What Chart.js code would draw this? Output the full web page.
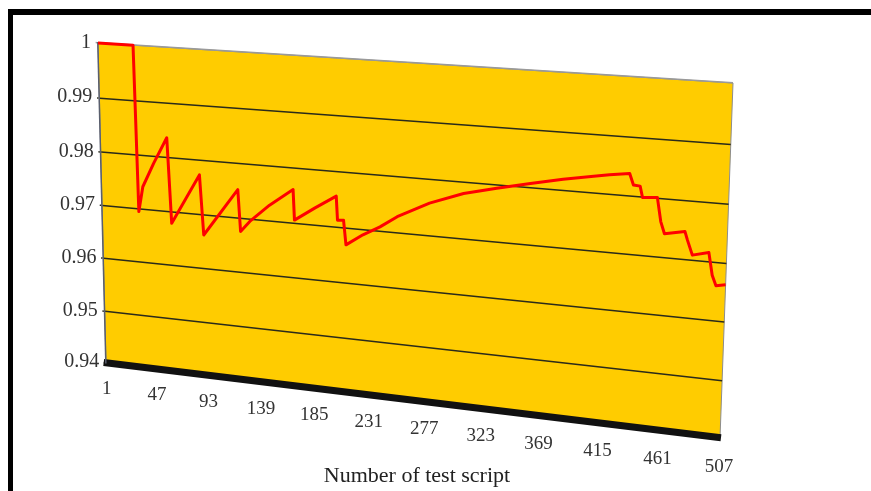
<!DOCTYPE html>
<html>
<head>
<meta charset="utf-8">
<script src="https://cdn.jsdelivr.net/npm/chart.js@4.4.1/dist/chart.umd.min.js"></script>
<style>
  html, body { margin: 0; padding: 0; background: #fff; }
  #wrap { position: relative; width: 871px; height: 491px; overflow: hidden; }
  #frame { position: absolute; left: 8px; top: 9px; right: -10px; bottom: -10px;
           border-top: 6px solid #000; border-left: 5px solid #000; }
  canvas { position: absolute; left: 0; top: 0; }
</style>
</head>
<body>
<div id="wrap">
  <div id="frame"></div>
  <canvas id="chart" width="871" height="491"></canvas>
</div>
<script>
// test script number and the value
const scriptNo = [1, 32, 34, 38, 48, 60, 63, 88, 91, 121, 123, 131, 148, 168, 169, 186, 204, 205, 210, 212,
  226, 240, 254, 280, 307, 333, 359, 384, 409, 419, 434, 437, 442, 444, 455, 458, 461, 476, 478, 482,
  494, 497, 500, 507];
const reliability = [1.0, 1.0, 0.9695, 0.9742, 0.9787, 0.9836, 0.9679, 0.9773, 0.9663, 0.9752,
  0.9676, 0.9696, 0.9729, 0.9761, 0.9706, 0.9731, 0.9756, 0.9713, 0.9714, 0.9670,
  0.9691, 0.9708, 0.9729, 0.9758, 0.9780, 0.9794, 0.9807, 0.9819, 0.9829, 0.9833,
  0.9838, 0.9819, 0.9818, 0.9799, 0.9801, 0.9761, 0.9741, 0.9748, 0.9734, 0.9709,
  0.9716, 0.9678, 0.9661, 0.9664];

const xTickValues = [1, 47, 93, 139, 185, 231, 277, 323, 369, 415, 461, 507];
const yTickValues = [0.94, 0.95, 0.96, 0.97, 0.98, 0.99, 1];
const yTickLabels = ['0.94', '0.95', '0.96', '0.97', '0.98', '0.99', '1'];
const xTitle = 'Number of test script';

// the plot wall is seen in perspective: top-left, top-right, bottom-right, bottom-left
const wall = [[98, 43], [733, 83], [720, 438], [106, 363]];

function makeWarp(q) {
  const [[x0, y0], [x1, y1], [x2, y2], [x3, y3]] = q;
  const dx1 = x1 - x2, dx2 = x3 - x2, dx3 = x0 - x1 + x2 - x3;
  const dy1 = y1 - y2, dy2 = y3 - y2, dy3 = y0 - y1 + y2 - y3;
  const den = dx1 * dy2 - dx2 * dy1;
  const g = (dx3 * dy2 - dx2 * dy3) / den;
  const h = (dx1 * dy3 - dx3 * dy1) / den;
  const a = x1 - x0 + g * x1, b = x3 - x0 + h * x3, c = x0;
  const d = y1 - y0 + g * y1, e = y3 - y0 + h * y3, f = y0;
  return (u, v) => {
    const w = g * u + h * v + 1;
    return [(a * u + b * v + c) / w, (d * u + e * v + f) / w];
  };
}

// maps everything chart.js draws (lines, grid, tick labels) onto the tilted wall
const warpPlugin = {
  id: 'warp',
  beforeDraw(chart) {
    const ctx = chart.ctx;
    const ca = chart.chartArea;
    const P = CanvasRenderingContext2D.prototype;
    const warp = makeWarp(wall);
    const map = (x, y) => warp((x - ca.left) / (ca.right - ca.left), (y - ca.top) / (ca.bottom - ca.top));

    ctx.moveTo = (x, y) => P.moveTo.call(ctx, ...map(x, y));
    ctx.lineTo = (x, y) => P.lineTo.call(ctx, ...map(x, y));
    ctx.clip = () => {}; // axis boxes no longer match the warped labels
    ctx.fillText = function (text, x, y, maxWidth) {
      if (text === xTitle) return P.fillText.call(ctx, text, x, y, maxWidth);
      const m = P.getTransform.call(ctx);
      const p = m.transformPoint(new DOMPoint(x, y));
      const q = map(p.x, p.y);
      const loc = m.inverse().transformPoint(new DOMPoint(q[0], q[1]));
      return P.fillText.call(ctx, text, loc.x, loc.y, maxWidth);
    };

    ctx.save();
    ctx.beginPath();
    ctx.moveTo(ca.left, ca.top);
    ctx.lineTo(ca.right, ca.top);
    ctx.lineTo(ca.right, ca.bottom);
    ctx.lineTo(ca.left, ca.bottom);
    ctx.closePath();
    ctx.fillStyle = '#ffcc00';
    ctx.fill();
    ctx.strokeStyle = '#8c8c8c';
    ctx.lineWidth = 1;
    ctx.stroke();
    ctx.restore();
  },
  afterDraw(chart) {
    delete chart.ctx.moveTo;
    delete chart.ctx.lineTo;
    delete chart.ctx.clip;
    delete chart.ctx.fillText;
  }
};

const serif = 'Liberation Serif';

new Chart(document.getElementById('chart'), {
  type: 'line',
  data: {
    datasets: [{
      data: scriptNo.map((x, i) => ({ x: x, y: reliability[i] })),
      borderColor: '#ff0000',
      borderWidth: 3,
      borderJoinStyle: 'round',
      pointRadius: 0,
      tension: 0,
      clip: false,
      segment: { borderColor: () => '#ff0000' }
    }]
  },
  options: {
    responsive: false,
    animation: false,
    devicePixelRatio: 1,
    layout: { padding: { left: 30, right: 67, top: 40, bottom: 0 } },
    plugins: {
      legend: { display: false },
      tooltip: { enabled: false },
      title: {
        display: true,
        position: 'bottom',
        text: xTitle,
        color: '#222',
        font: { family: serif, size: 22, weight: 'normal' },
        padding: { top: 14, bottom: 2 }
      }
    },
    scales: {
      x: {
        type: 'linear',
        min: 1,
        max: 507,
        afterBuildTicks: (s) => { s.ticks = xTickValues.map(v => ({ value: v })); },
        ticks: {
          autoSkip: false,
          maxRotation: 0,
          padding: 18,
          color: '#333',
          font: { family: serif, size: 19 },
          callback: (v, i) => String(xTickValues[i])
        },
        grid: { drawOnChartArea: false, drawTicks: false },
        border: { display: true, color: '#111', width: 7 }
      },
      y: {
        min: 0.94,
        max: 1,
        afterBuildTicks: (s) => { s.ticks = yTickValues.map(v => ({ value: v })); },
        ticks: {
          padding: 6,
          color: '#333',
          font: { family: serif, size: 20 },
          callback: (v, i) => yTickLabels[i]
        },
        grid: {
          color: (c) => (c.tick && c.tick.value === 1 ? '#9a9a9a' : '#2a2a1a'),
          lineWidth: 1.5,
          tickLength: 3
        },
        border: { display: true, color: '#5a5f6e', width: 1.5 }
      }
    }
  },
  plugins: [warpPlugin]
});
</script>
</body>
</html>
